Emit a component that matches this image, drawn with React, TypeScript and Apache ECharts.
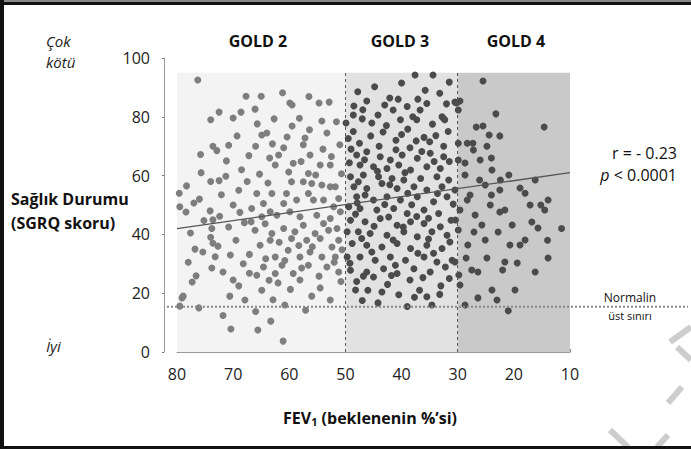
import React, { useEffect, useRef } from "react";
import * as echarts from "echarts";

const FONT = "Open Sans";

// [FEV1 % predicted, SGRQ score]
const gold2: [number, number][] = [
  [76.3, 92.5], [72.5, 81.6], [74, 79], [73.6, 70], [72.9, 68.5],
  [79.6, 54], [79.5, 49.4], [75.7, 61], [74, 58], [77, 50.7], [78.4, 47.6], [74.1, 48], [73.6, 45],
  [73.8, 42], [74, 39], [73.6, 37], [72.7, 36], [75.4, 34], [73.2, 32.4], [73.8, 28.6], [71.8, 27.2],
  [76.6, 25.9], [77.3, 23.8], [78.9, 19], [79.1, 18.4], [79.5, 15.6], [76.1, 15],
  [67.7, 87], [65, 87], [70, 79.6], [68.6, 81.6], [66.1, 82.6], [62.7, 79.3], [59.9, 84.7], [59.5, 84],
  [54.7, 84.7], [52.9, 85], [54.2, 78.6], [59.5, 76.9], [69.3, 73.5], [64.9, 73.8], [64, 74.5],
  [60.4, 73.1], [57.2, 72.8], [53.3, 74.5],
  [70.4, 7.8], [65.6, 7.5], [61.1, 3.7], [70.6, 19], [67.9, 17.7], [64.9, 21], [60.8, 16], [58.1, 24.5],
  [54.5, 21.8], [52.7, 17.7], [63.3, 10.5], [56, 19], [69, 22.5], [62, 23.5], [50.8, 24],
  [68.5, 62], [69, 55], [70, 50], [68, 44], [69.5, 38], [70.5, 33], [68.2, 30], [70, 24.5], [67.5, 58],
  [68.8, 47.5], [71.2, 65], [70.8, 42.5],
  [66, 70], [61, 69.5], [57.5, 70.5], [54, 69], [51, 70.5], [63.5, 66], [52.5, 66.5],
  [61.9, 67], [62.5, 63.6], [59.3, 64.2], [56.3, 67], [54.5, 63.6], [52.7, 63.6], [56.6, 60.7],
  [57.5, 57.9], [56, 57.3], [54.2, 56.8], [52.7, 56.2], [51.8, 56.2], [59.6, 57.9], [60.5, 53.9],
  [63.1, 53.9], [65.8, 53.9], [64.6, 50.5], [66.7, 48.8], [61, 50.5], [58.7, 51.7], [56.6, 53.9],
  [55.7, 51.7], [53.9, 51.7], [52.1, 49.4], [51.2, 52.2], [63.4, 47.7], [64.9, 46], [62.2, 46.5],
  [59.9, 47.7], [58.1, 46], [55.1, 46.5], [53.9, 43.7], [52.7, 45.4], [50.9, 47.7], [66.1, 41.4],
  [63.1, 40.3], [61, 42], [59, 40.9], [57.5, 43.1], [55.4, 40.3], [53, 41.4], [51.5, 42], [65.2, 36.3],
  [63.4, 38], [59.6, 38.6], [56.9, 38], [54.5, 38.6], [52.4, 35.7], [51.2, 38], [62.5, 32.3],
  [60.2, 34.6], [58.1, 32.3], [56.3, 34], [54.2, 32.3], [51.8, 32.3], [64.6, 28.9], [61.3, 29.5],
  [59.3, 26.7], [56.6, 29.5], [53.3, 28.9], [51.2, 27.2], [65.8, 26.1], [62.5, 26.7],
  [78.3, 56.5], [76, 52], [75.2, 44.7], [77.6, 40.5], [76.8, 35], [78, 30.5], [72.1, 53.5], [71.3, 59.8],
  [72.4, 46.2], [67.2, 66.8], [65.3, 60.5], [63.8, 57.5], [60.1, 61.2], [57.9, 64.8], [55.3, 60.2],
  [50.7, 60.6], [66.8, 44.3], [64.3, 43.6], [61.8, 37.3], [58.3, 36.2], [55.9, 35.8], [50.6, 34.8],
  [67.1, 33.2], [64.2, 31.7], [60.8, 31.1], [57.8, 28.6], [54.7, 25.8], [52, 30.5], [67.1, 26.8],
  [63.6, 24.4], [59.8, 21.3], [57.1, 14.2], [66, 13.8], [71.8, 12.4], [62.9, 17.8], [72.5, 58.3],
  [75.8, 67.2], [70.8, 70.3], [63, 70.8], [58.2, 79.5], [56.4, 75.6], [51.6, 78.3], [65.7, 77.6],
  [61.2, 88.2], [56.5, 86.9],
];

const gold3: [number, number][] = [
  [37.6, 94.2], [34.4, 94.2], [31.5, 91.8], [48.5, 83.7], [46.2, 85.4], [42.1, 86.4], [40.6, 86],
  [37.1, 86], [32, 84.4], [30.2, 84.7], [48.6, 80.6], [41.5, 82.3], [36.7, 82.3], [44.2, 80.6],
  [47, 79.3], [45.3, 77.9], [49.9, 77.9], [38, 80], [37.3, 79], [32.8, 80], [32.3, 79], [38.9, 75.8],
  [31.7, 75], [48.6, 75], [32.6, 79.6],
  [47.5, 71], [44, 70], [41, 72], [38.5, 69.5], [35, 71.5], [32.5, 70], [45.5, 73.5], [40, 74],
  [36, 73], [49, 69],
  [48, 67], [46.2, 68.1], [43.8, 66.4], [42, 65.3], [39.9, 67], [37.2, 65.9], [34.9, 67.6], [32.5, 66.4],
  [47.4, 63.6], [45, 63], [42.6, 62.4], [40.5, 63.6], [38.4, 61.9], [35.5, 63], [33.1, 62.4],
  [49.1, 59.6], [46.8, 60.2], [44.1, 59.6], [41.7, 59], [39.6, 58.5], [36.6, 59], [33.7, 59.6],
  [31.6, 58.5], [48.5, 56.2], [46.2, 55.6], [43.5, 57.3], [40.8, 55.6], [37.8, 56.2], [35.5, 55.1],
  [32.8, 56.2], [48, 52.8], [46.5, 53.4], [45, 51.7], [42.6, 52.8], [40.2, 51.7], [37.2, 52.8],
  [34.3, 51.1], [31.9, 52.8], [49.4, 49.4], [47.4, 48.8], [44.4, 48.3], [41.4, 48.8], [39, 47.1],
  [36, 48.3], [33.4, 47.1], [49.1, 44.8], [46.5, 44.3], [43.8, 45.4], [40.8, 43.1], [38.4, 44.3],
  [36, 43.7], [33.1, 42.6], [49.7, 40.9], [47.7, 40.9], [45.6, 40.3], [42.6, 39.7], [39.6, 40.9],
  [37.2, 39.2], [34.6, 40.9], [31.9, 39.7], [48.8, 36.9], [46.2, 36.3], [43.5, 35.7], [40.8, 36.9],
  [38.4, 35.2], [35.5, 36.3], [32.8, 35.2], [49.7, 32.3], [47.4, 32.3], [44.7, 31.2], [42, 32.3],
  [39.3, 31.2], [36, 32.3], [33.7, 30.6], [49.1, 27.8], [46.2, 27.2], [43.2, 28.3], [40.8, 26.7],
  [37.8, 28.3], [34.9, 27.2], [32.2, 28.9],
  [48, 24], [46, 21], [44.2, 16.7], [42.5, 23], [40.5, 19.5], [38.5, 24.5], [36.8, 21], [34.6, 16],
  [33, 22.5], [31.5, 25], [45, 25.5], [39, 15.5], [47, 17.5], [35.5, 18.8],
  [47.8, 88.5], [44.8, 90.2], [40, 91.5], [35.8, 89], [33.2, 88], [43, 84], [39, 83.5], [35.5, 84.5],
  [46.9, 82.4], [34.5, 77.5], [42.7, 77], [40.2, 79], [49.5, 72.6], [43.3, 74.8], [37.4, 71.8],
  [33.9, 73.6], [46.6, 65.4], [41, 68.8], [36.4, 68.2], [31.5, 64.8], [49.3, 64.4], [44.3, 61.5],
  [39.4, 61], [34.2, 64.8], [47.7, 57.9], [42.1, 56.9], [38.9, 54], [33.6, 53.9], [30.8, 50.3],
  [47.9, 50.7], [43, 50.2], [38.2, 50.1], [35.2, 45.5], [31.2, 44.8], [48.2, 46.9], [42.3, 45.9],
  [37.3, 46.1], [44.9, 42.8], [39.7, 42.5], [35.2, 38.4], [31.4, 37.4], [47.1, 38.6], [41.5, 38.1],
  [37.1, 33.6], [45.3, 34], [49.2, 30.2], [41.1, 29.5], [34.3, 33.6], [31, 31.2], [48.2, 21.1],
  [43.5, 20.4], [37.7, 18.6], [33.2, 19.6], [46.8, 25.8], [41.8, 26], [36.2, 25.3],
];

const gold4: [number, number][] = [
  [25.5, 92.2], [30.5, 85], [29.6, 85.4], [29.9, 82.3], [23.2, 81], [26.7, 76.5], [25.5, 76.9],
  [14.6, 76.5], [24.4, 73.8], [22.5, 73.5], [28.3, 71], [27.3, 71], [24.8, 70], [29.9, 71],
  [29.9, 65.3], [28.7, 60.2], [30.5, 55.1], [27.8, 53.4], [29.6, 48.3], [26.9, 46.6], [29.9, 41.5],
  [28.2, 36.4], [30.5, 30.6], [27.5, 27.9], [29.6, 22.8], [26.4, 18.4], [28.7, 16],
  [26, 65.3], [23.9, 61.9], [25.1, 56.8], [22.5, 55.1], [24.2, 50], [21.6, 48.3], [25.7, 43.2],
  [22.8, 40.8], [20.7, 36.4], [24.8, 32], [22, 27.9], [23.9, 21.1], [21, 14],
  [19.4, 30.3], [18.9, 55.8], [17.1, 50], [14.5, 48.3], [15.7, 42.2], [14, 38], [18, 38.1],
  [16.2, 58.5], [13.9, 51.7], [11.5, 42],
  [28.7, 64.3], [27.2, 68.7], [24, 66], [22.4, 58.5], [26.1, 58.5], [28.3, 51.7], [24, 53.4],
  [22.5, 47.6], [20.3, 43.2], [18.9, 36.4], [16.8, 44.2], [15.2, 50], [13.9, 32], [16.2, 27.2],
  [19.8, 21.1], [23, 17.7], [26.4, 27.2], [28.5, 32], [27.1, 40.8], [30.4, 44.9], [25.1, 38.1],
  [21.6, 30.6], [18, 54], [20.9, 60.2], [29.8, 26.2],
];

const trendFev = [80, 10];
const trendScore = [42, 61];

const yTicks = { min: 0, max: 100, interval: 20 };
const xTicks = { min: 10, max: 80, interval: 10 };
const normalUpper = 15.4;
const goldLabels = ["GOLD 2", "GOLD 3", "GOLD 4"];
const goldBounds = [80, 50, 30, 10];
const shadeTop = 95;

export default function App() {
  const ref = useRef<HTMLDivElement>(null);
  useEffect(() => {
    const chart = echarts.init(ref.current!, null, { renderer: "svg" });
    const base: any = {
      animation: false,
      backgroundColor: "#fff",
      textStyle: { fontFamily: FONT },
      grid: { left: 177, right: 121, top: 58, bottom: 97 },
      xAxis: {
        type: "value",
        inverse: true,
        min: xTicks.min,
        max: xTicks.max,
        interval: xTicks.interval,
        splitLine: { show: false },
        axisLine: { lineStyle: { color: "#999", width: 1 } },
        axisTick: { inside: true, length: 3, lineStyle: { color: "#888" } },
        axisLabel: { fontSize: 16, color: "#222", margin: 14, fontFamily: FONT },
      },
      yAxis: {
        type: "value",
        min: yTicks.min,
        max: yTicks.max,
        interval: yTicks.interval,
        offset: 13,
        splitLine: { show: false },
        axisLine: { show: true, lineStyle: { color: "#999", width: 1 } },
        axisTick: { show: true, length: 2, lineStyle: { color: "#777" } },
        axisLabel: { fontSize: 16, color: "#222", margin: 14, fontFamily: FONT },
      },
      series: [
        {
          type: "scatter",
          data: [],
          z: 1,
          markArea: {
            silent: true,
            data: [
              [{ coord: [goldBounds[0], 0], itemStyle: { color: "#f3f3f3" } }, { coord: [goldBounds[1], shadeTop] }],
              [{ coord: [goldBounds[1], 0], itemStyle: { color: "#e2e2e2" } }, { coord: [goldBounds[2], shadeTop] }],
              [{ coord: [goldBounds[2], 0], itemStyle: { color: "#c9c9c9" } }, { coord: [goldBounds[3], shadeTop] }],
            ],
          },
          markLine: {
            silent: true,
            symbol: "none",
            label: { show: false },
            lineStyle: { color: "#555", type: [3, 3], width: 1 },
            data: [
              [{ coord: [goldBounds[1], 0] }, { coord: [goldBounds[1], shadeTop] }],
              [{ coord: [goldBounds[2], 0] }, { coord: [goldBounds[2], shadeTop] }],
            ],
          },
        },
        { type: "scatter", data: gold2, symbolSize: 7, z: 3, itemStyle: { color: "#7e7e7e", opacity: 1 } },
        { type: "scatter", data: gold3, symbolSize: 7, z: 3, itemStyle: { color: "#4b4b4b", opacity: 1 } },
        { type: "scatter", data: gold4, symbolSize: 7, z: 3, itemStyle: { color: "#4b4b4b", opacity: 1 } },
        {
          type: "line",
          data: trendFev.map((f, i) => [f, trendScore[i]]),
          showSymbol: false,
          symbol: "none",
          z: 4,
          lineStyle: { color: "#555", width: 1.3 },
        },
      ],
    };
    chart.setOption(base);
    const yN = chart.convertToPixel({ yAxisIndex: 0 }, normalUpper) as number;

    const txt = (x: number, y: number, text: string, s: any) => ({
      type: "text",
      x,
      y,
      z: 10,
      style: { text, fontFamily: FONT, fill: "#111", verticalAlign: "middle", ...s },
    });
    const wm = (x1: number, y1: number, x2: number, y2: number) => ({
      type: "line",
      z: 9,
      shape: { x1, y1, x2, y2 },
      style: { stroke: "#cdcdcd", lineWidth: 6 },
    });

    chart.setOption({
      graphic: [
        { type: "rect", shape: { x: 0, y: 0, width: 691, height: 2 }, style: { fill: "#8a8a8a" }, z: 20 },
        { type: "rect", shape: { x: 0, y: 2, width: 691, height: 3 }, style: { fill: "#111" }, z: 20 },
        { type: "rect", shape: { x: 0, y: 0, width: 4, height: 449 }, style: { fill: "#111" }, z: 20 },
        { type: "rect", shape: { x: 0, y: 446, width: 691, height: 3 }, style: { fill: "#111" }, z: 20 },
        {
          type: "line",
          z: 8,
          shape: { x1: 167, y1: yN, x2: 688, y2: yN },
          style: { stroke: "#888", lineWidth: 2, lineDash: [2, 2] },
        },
        ...goldLabels.map((g, i) =>
          txt([258, 400, 516][i], 41, g, { fontSize: 16, fontWeight: "bold", align: "center" })
        ),
        txt(46, 41, "Çok", { fontSize: 15, fontStyle: "italic", fill: "#222" }),
        txt(46, 62, "kötü", { fontSize: 15, fontStyle: "italic", fill: "#222" }),
        txt(46, 346, "İyi", { fontSize: 15, fontStyle: "italic", fill: "#222" }),
        txt(11, 199, "Sağlık Durumu", { fontSize: 16, fontWeight: "bold" }),
        txt(11, 223, "(SGRQ skoru)", { fontSize: 16, fontWeight: "bold" }),
        txt(677, 153, "r = - 0.23", { fontSize: 16, align: "right" }),
        {
          type: "text",
          x: 677,
          y: 175,
          z: 10,
          style: {
            text: "{i|p} < 0.0001",
            align: "right",
            verticalAlign: "middle",
            fontFamily: FONT,
            fontSize: 16,
            fill: "#111",
            rich: { i: { fontStyle: "italic", fontFamily: FONT, fontSize: 16, fill: "#111" } },
          },
        },
        txt(630, 297, "Normalin", { fontSize: 12, align: "center" }),
        txt(630, 315, "üst sınırı", { fontSize: 11, align: "center" }),
        {
          type: "text",
          x: 370,
          y: 418,
          z: 10,
          style: {
            text: "{a|FEV}{s|1}{a| (beklenenin %’si)}",
            align: "center",
            verticalAlign: "middle",
            fontFamily: FONT,
            rich: {
              a: { fontSize: 16, fontWeight: "bold", fontFamily: FONT, fill: "#111", lineHeight: 20 },
              s: { fontSize: 11, fontWeight: "bold", fontFamily: FONT, fill: "#111", lineHeight: 20, padding: [7, 0, 0, 0] },
            },
          },
        },
        wm(670, 342, 691, 327),
        wm(677, 347, 691, 360),
        wm(668, 403, 682, 387),
        wm(610, 430, 628, 447),
        wm(657, 447, 668, 435),
      ],
    });
    return () => chart.dispose();
  }, []);
  return (
    <div
      ref={ref}
      style={{ position: "fixed", left: 0, top: 0, width: 691, height: 449, background: "#fff" }}
    />
  );
}
